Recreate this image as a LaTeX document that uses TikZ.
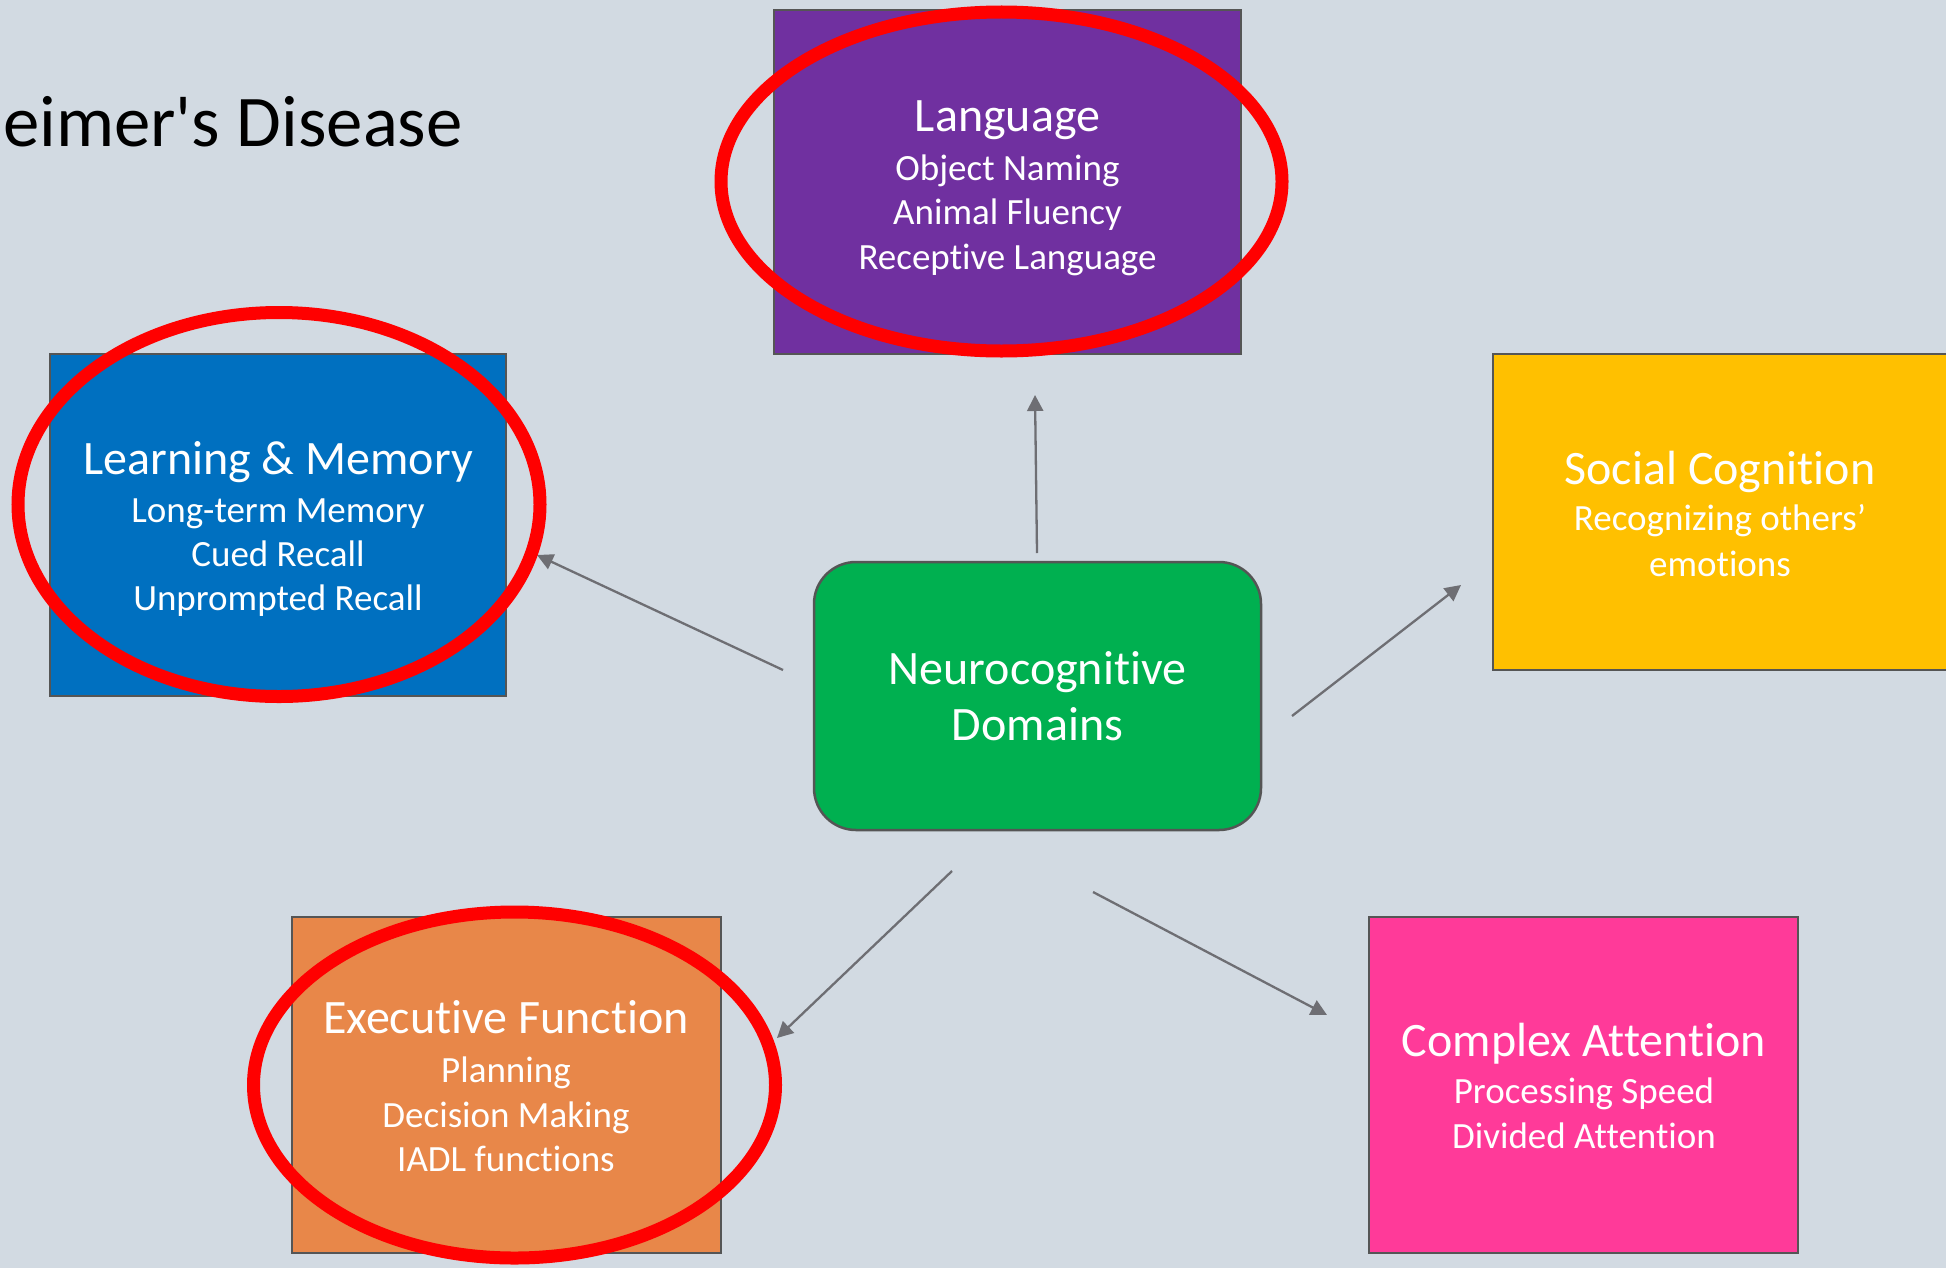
\documentclass[tikz,border=0pt]{standalone}
\usepackage{fontspec}
\setmainfont{Carlito}[Ligatures=CommonOff]
\newfontfamily\plainfont{Carlito}[Ligatures=CommonOff]
\usetikzlibrary{arrows.meta}

\definecolor{slidebg}{HTML}{D2DAE2}
\definecolor{boxline}{HTML}{555555}
\definecolor{arrowgray}{HTML}{6E6E73}
\definecolor{langpurple}{HTML}{7030A0}
\definecolor{memblue}{HTML}{0070C0}
\definecolor{socialgold}{HTML}{FFC000}
\definecolor{coregreen}{HTML}{00B050}
\definecolor{execorange}{HTML}{E88749}
\definecolor{attnpink}{HTML}{FF3A99}
\definecolor{ringred}{HTML}{FF0000}

\tikzset{
  domainbox/.style={draw=boxline, line width=1.25pt, inner sep=0pt, outer sep=0pt},
  headline/.style={text=white, inner sep=0pt, anchor=base, font=\fontsize{24}{28}\selectfont},
  subline/.style={text=white, inner sep=0pt, anchor=base, font=\fontsize{18.5}{22}\selectfont},
  conn/.style={draw=arrowgray, line width=1.15pt, -{Triangle[length=8pt,width=8pt]}},
  ring/.style={draw=ringred, line width=6.5pt}
}

\begin{document}
\begin{tikzpicture}[x=0.5pt,y=-0.5pt]
\useasboundingbox (0,0) rectangle (1946,1268);
\clip (0,0) rectangle (1946,1268);
\fill[slidebg] (0,0) rectangle (1946,1268);

% title
\node[anchor=base east, inner sep=0pt, font=\plainfont\fontsize{36.4}{40}\selectfont] (title) at (463,147) {eimer's Disease};

% domain boxes
\node[domainbox, fill=langpurple, minimum width=233.5pt, minimum height=172pt] (lang) at (1007.5,182) {};
\node[domainbox, fill=memblue, minimum width=228pt, minimum height=171pt] (mem) at (278,525) {};
\node[domainbox, fill=socialgold, minimum width=229.5pt, minimum height=158pt] (social) at (1722.5,512) {};
\node[domainbox, fill=coregreen, rounded corners=21pt, minimum width=223.5pt, minimum height=134pt] (core) at (1037.5,696) {};
\node[domainbox, fill=execorange, minimum width=214.5pt, minimum height=168pt] (exec) at (506.5,1085) {};
\node[domainbox, fill=attnpink, minimum width=214.5pt, minimum height=168pt] (attn) at (1583.5,1085) {};

% box texts
\node[headline] (langH) at (1007.5,131) {Language};
\node[subline] (langA) at (1007.5,180) {Object Naming};
\node[subline] (langB) at (1007.5,224) {Animal Fluency};
\node[subline] (langC) at (1007.5,269) {Receptive Language};

\node[headline] (memH) at (278,474) {Learning \& Memory};
\node[subline] (memA) at (278,522) {Long-term Memory};
\node[subline] (memB) at (278,566) {Cued Recall};
\node[subline] (memC) at (278,610) {Unprompted Recall};

\node[headline] (socialH) at (1720,484) {Social Cognition};
\node[subline] (socialA) at (1720,530) {Recognizing others’};
\node[subline] (socialB) at (1720,576) {emotions};

\node[headline] (coreA) at (1037.5,684) {Neurocognitive};
\node[headline] (coreB) at (1037.5,740) {Domains};

\node[headline] (execH) at (506,1033) {Executive Function};
\node[subline] (execA) at (506,1082) {Planning};
\node[subline] (execB) at (506,1127) {Decision Making};
\node[subline] (execC) at (506,1171) {IADL functions};

\node[headline] (attnH) at (1584,1056) {Complex Attention};
\node[subline] (attnA) at (1584,1103) {Processing Speed};
\node[subline] (attnB) at (1584,1148) {Divided Attention};

% connector end points
\coordinate (toLangS) at (1037,553);
\coordinate (toLangE) at (1035,395);
\coordinate (toMemS) at (783,670);
\coordinate (toMemE) at (537,555);
\coordinate (toSocialS) at (1292,716);
\coordinate (toSocialE) at (1461,585);
\coordinate (toExecS) at (952,871);
\coordinate (toExecE) at (777,1038);
\coordinate (toAttnS) at (1093,892);
\coordinate (toAttnE) at (1327,1015);

\draw[conn] (toLangS) -- (toLangE);
\draw[conn] (toMemS) -- (toMemE);
\draw[conn] (toSocialS) -- (toSocialE);
\draw[conn] (toExecS) -- (toExecE);
\draw[conn] (toAttnS) -- (toAttnE);

% highlight rings
\draw[ring] (1001.5,181.5) ellipse [x radius=140.25pt, y radius=84.75pt];
\draw[ring] (279,504.5) ellipse [x radius=130.5pt, y radius=96pt];
\draw[ring] (514.5,1085) ellipse [x radius=130.5pt, y radius=86.5pt];
\end{tikzpicture}
\end{document}
